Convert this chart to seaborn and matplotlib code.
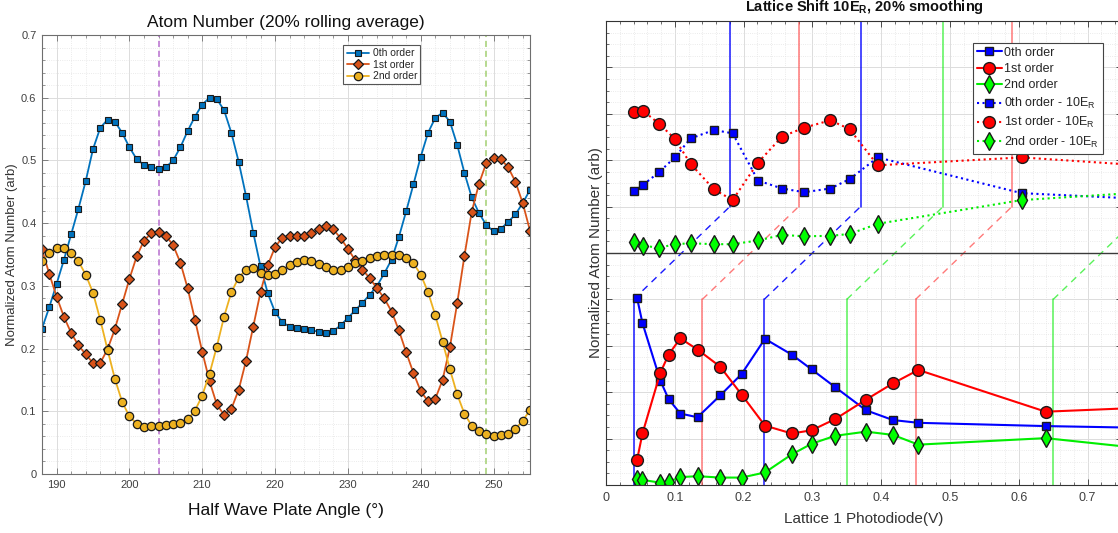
import matplotlib
matplotlib.use("Agg")
import matplotlib.pyplot as plt
from matplotlib.ticker import MultipleLocator
import seaborn as sns
import numpy as np

# ---------------- left panel: atom number vs half wave plate angle ----------------
angle = np.arange(188, 256)
order0 = [0.232, 0.266, 0.303, 0.341, 0.382, 0.423, 0.467, 0.518, 0.552, 0.565,
          0.562, 0.544, 0.521, 0.502, 0.493, 0.489, 0.487, 0.489, 0.500, 0.521,
          0.547, 0.570, 0.589, 0.600, 0.598, 0.580, 0.544, 0.498, 0.444, 0.385,
          0.331, 0.288, 0.258, 0.242, 0.235, 0.233, 0.231, 0.229, 0.227, 0.225,
          0.228, 0.237, 0.249, 0.261, 0.273, 0.286, 0.300, 0.320, 0.342, 0.378,
          0.419, 0.462, 0.506, 0.544, 0.568, 0.576, 0.562, 0.525, 0.480, 0.441,
          0.416, 0.397, 0.387, 0.391, 0.402, 0.414, 0.432, 0.453]
order1 = [0.358, 0.319, 0.283, 0.251, 0.225, 0.205, 0.191, 0.177, 0.177, 0.199,
          0.231, 0.271, 0.311, 0.347, 0.372, 0.384, 0.386, 0.380, 0.365, 0.337,
          0.296, 0.246, 0.195, 0.148, 0.111, 0.094, 0.104, 0.134, 0.180, 0.235,
          0.290, 0.333, 0.362, 0.377, 0.380, 0.380, 0.380, 0.384, 0.390, 0.395,
          0.390, 0.376, 0.359, 0.341, 0.326, 0.312, 0.296, 0.280, 0.259, 0.229,
          0.194, 0.161, 0.132, 0.116, 0.120, 0.150, 0.202, 0.272, 0.348, 0.418,
          0.463, 0.496, 0.504, 0.502, 0.489, 0.466, 0.432, 0.388]
order2 = [0.339, 0.352, 0.360, 0.360, 0.353, 0.339, 0.318, 0.289, 0.246, 0.198,
          0.152, 0.115, 0.092, 0.080, 0.075, 0.076, 0.077, 0.078, 0.079, 0.081,
          0.087, 0.101, 0.125, 0.160, 0.203, 0.251, 0.290, 0.313, 0.326, 0.328,
          0.321, 0.318, 0.319, 0.325, 0.333, 0.338, 0.341, 0.340, 0.335, 0.330,
          0.326, 0.326, 0.330, 0.337, 0.340, 0.344, 0.347, 0.349, 0.350, 0.349,
          0.345, 0.336, 0.318, 0.290, 0.253, 0.211, 0.167, 0.127, 0.096, 0.077,
          0.068, 0.063, 0.060, 0.062, 0.064, 0.072, 0.085, 0.102]
mark_angles = [204, 249]

# ---------------- right panel: lattice shift ----------------
# lower half: measured orders, upper half: 10E_R shifted data (offset by one panel)
volts = [0.045, 0.053, 0.079, 0.091, 0.108, 0.133, 0.166, 0.197, 0.231, 0.270,
         0.299, 0.333, 0.378, 0.417, 0.454, 0.639, 0.900]
lat0 = [0.404, 0.349, 0.225, 0.185, 0.154, 0.146, 0.193, 0.239, 0.315, 0.281,
        0.249, 0.211, 0.161, 0.140, 0.134, 0.127, 0.120]
lat1 = [0.053, 0.111, 0.242, 0.281, 0.316, 0.292, 0.255, 0.195, 0.128, 0.111,
        0.118, 0.142, 0.184, 0.219, 0.248, 0.158, 0.174]
lat2 = [0.014, 0.011, 0.005, 0.007, 0.017, 0.019, 0.016, 0.016, 0.027, 0.066,
        0.089, 0.106, 0.115, 0.108, 0.087, 0.101, 0.060]

volts_10er = [0.041, 0.054, 0.077, 0.100, 0.123, 0.157, 0.184, 0.221, 0.256,
              0.288, 0.326, 0.354, 0.395, 0.604, 0.900]
lat0_10er = [0.133, 0.147, 0.174, 0.206, 0.247, 0.265, 0.258, 0.156, 0.139,
             0.131, 0.139, 0.159, 0.206, 0.129, 0.108]
lat1_10er = [0.304, 0.306, 0.279, 0.246, 0.192, 0.137, 0.114, 0.195, 0.251,
             0.270, 0.286, 0.267, 0.189, 0.206, 0.177]
lat2_10er = [0.024, 0.016, 0.011, 0.019, 0.021, 0.019, 0.019, 0.027, 0.039,
             0.036, 0.037, 0.041, 0.063, 0.114, 0.142]
panel_offset = 0.5

# resonance markers (lower panel) and their position after the 10E_R shift
res_volts = [0.04, 0.14, 0.23, 0.35, 0.45, 0.65]
res_order = [0, 1, 0, 2, 1, 2]
res_shift = 0.14
res_level = 0.4

sns.set_theme(style="ticks")
plt.rcParams['font.family'] = ['Liberation Sans', 'DejaVu Sans']
plt.rcParams['mathtext.default'] = 'regular'

fig = plt.figure(figsize=(11.18, 5.33), dpi=100)
ax1 = fig.add_axes([42 / 1118, 59 / 533, 488 / 1118, 439 / 533])
ax2 = fig.add_axes([606 / 1118, 48 / 533, 516 / 1118, 464 / 533])

def matlab_axes(ax, spine_col, lab_col, fs, pad):
    ax.set_facecolor('white')
    for s in ax.spines.values():
        s.set_color(spine_col)
        s.set_linewidth(0.8)
    ax.grid(True, which='major', color='#dcdcdc', lw=0.7, ls='-')
    ax.grid(True, which='minor', color='#e4e4e4', lw=0.6, ls=':')
    ax.set_axisbelow(True)
    ax.tick_params(which='both', direction='in', top=True, right=True,
                   color=spine_col, labelcolor=lab_col, labelsize=fs, pad=pad)
    ax.tick_params(which='major', length=4, width=0.6)
    ax.tick_params(which='minor', length=2, width=0.5)

# ---- left ----
matlab_axes(ax1, '#6e6e6e', '#404040', 8, 4)
for a in mark_angles:
    col = '#b86fd0' if a < 230 else '#a3cf72'
    ax1.axvline(a, color=col, ls=(0, (4, 2.5)), lw=1.1, zorder=1.5)

sns.lineplot(x=angle, y=order0, ax=ax1, color='#0072bd', marker='s', markersize=4.3,
             markerfacecolor='#0072bd', markeredgecolor='#1a1a1a', markeredgewidth=0.8,
             lw=1.3, label='0th order', sort=False, estimator=None)
sns.lineplot(x=angle, y=order1, ax=ax1, color='#d95319', marker='D', markersize=5,
             markerfacecolor='#d95319', markeredgecolor='#1a1a1a', markeredgewidth=0.9,
             lw=1.3, label='1st order', sort=False, estimator=None)
sns.lineplot(x=angle, y=order2, ax=ax1, color='#edb120', marker='o', markersize=6,
             markerfacecolor='#edb120', markeredgecolor='#1a1a1a', markeredgewidth=0.9,
             lw=1.3, label='2nd order', sort=False, estimator=None)

ax1.set_xlim(188, 255)
ax1.set_ylim(0, 0.7)
ax1.xaxis.set_major_locator(MultipleLocator(10))
ax1.xaxis.set_minor_locator(MultipleLocator(2))
ax1.yaxis.set_major_locator(MultipleLocator(0.1))
ax1.yaxis.set_minor_locator(MultipleLocator(0.02))
ax1.set_yticks(np.arange(0, 0.71, 0.1))
ax1.set_yticklabels(['0', '0.1', '0.2', '0.3', '0.4', '0.5', '0.6', '0.7'])
ax1.set_title('Atom Number (20% rolling average)', fontsize=12.5, color='#111111', pad=6)
ax1.set_xlabel('Half Wave Plate Angle (°)', fontsize=12.5, color='#111111')
ax1.set_ylabel('Normalized Atom Number (arb)', fontsize=9.5, color='#333333')
ax1.xaxis.set_label_coords(0.5, -0.065)
ax1.yaxis.set_label_coords(-0.05, 0.5)
leg1 = ax1.legend(loc='upper right', bbox_to_anchor=(0.775, 0.977), borderaxespad=0,
                  fontsize=7.5, frameon=True, fancybox=False, framealpha=1,
                  edgecolor='#555555', handlelength=2.2, handletextpad=0.3,
                  labelspacing=0.15, borderpad=0.3)
leg1.get_frame().set_linewidth(0.8)

# ---- right ----
matlab_axes(ax2, '#333333', '#404040', 9, 5)
res_cols = ['#0000ff', '#ff4d4d', '#22ee22']
for v, o in zip(res_volts, res_order):
    c = res_cols[o]
    al = 0.9 if o == 0 else 0.75
    ax2.plot([v, v], [0, res_level], color=c, lw=1.1, alpha=al, zorder=1.5)
    ax2.plot([v, v + res_shift], [res_level, 1 - res_level], color=c, lw=1.0,
             ls=(0, (5, 4)), alpha=al, zorder=1.5)
    ax2.plot([v + res_shift, v + res_shift], [1 - res_level, 1], color=c, lw=1.1,
             alpha=al, zorder=1.5)
ax2.axhline(panel_offset, color='#3a3a3a', lw=1.0, zorder=1.6)

sty = dict(markeredgecolor='k', markeredgewidth=1.0, sort=False, estimator=None)
sns.lineplot(x=volts, y=lat0, ax=ax2, color='#0000ff', marker='s', markersize=6,
             markerfacecolor='#0000ff', lw=1.5, label='0th order', **sty)
sns.lineplot(x=volts, y=lat1, ax=ax2, color='#ff0000', marker='o', markersize=8.5,
             markerfacecolor='#ff0000', lw=1.5, label='1st order', **sty)
sns.lineplot(x=volts, y=lat2, ax=ax2, color='#00ee00', marker='d', markersize=9,
             markerfacecolor='#00ff00', lw=1.5, label='2nd order', **sty)
sns.lineplot(x=volts_10er, y=np.array(lat0_10er) + panel_offset, ax=ax2, color='#0000ff',
             marker='s', markersize=6, markerfacecolor='#0000ff', lw=1.5, ls=':',
             label='0th order - 10E$_R$', **sty)
sns.lineplot(x=volts_10er, y=np.array(lat1_10er) + panel_offset, ax=ax2, color='#ff0000',
             marker='o', markersize=8.5, markerfacecolor='#ff0000', lw=1.5, ls=':',
             label='1st order - 10E$_R$', **sty)
sns.lineplot(x=volts_10er, y=np.array(lat2_10er) + panel_offset, ax=ax2, color='#00ee00',
             marker='d', markersize=9, markerfacecolor='#00ff00', lw=1.5, ls=':',
             label='2nd order - 10E$_R$', **sty)

ax2.set_xlim(0, 0.75)
ax2.set_ylim(0, 1)
ax2.xaxis.set_major_locator(MultipleLocator(0.1))
ax2.xaxis.set_minor_locator(MultipleLocator(0.02))
ax2.yaxis.set_major_locator(MultipleLocator(0.1))
ax2.yaxis.set_minor_locator(MultipleLocator(0.025))
ax2.set_xticks(np.arange(0, 0.71, 0.1))
ax2.set_xticklabels(['0', '0.1', '0.2', '0.3', '0.4', '0.5', '0.6', '0.7'])
ax2.tick_params(labelleft=False)
ax2.set_title('Lattice Shift 10E$_R$, 20% smoothing', fontsize=10.5, fontweight='bold',
              color='#111111', pad=7)
ax2.set_xlabel('Lattice 1 Photodiode(V)', fontsize=11, color='#333333')
ax2.set_ylabel('Normalized Atom Number (arb)', fontsize=11, color='#333333')
ax2.xaxis.set_label_coords(0.5, -0.058)
ax2.yaxis.set_label_coords(-0.006, 0.5)
leg2 = ax2.legend(loc='upper left', bbox_to_anchor=((973 - 606) / 516, (485 - 43) / 464),
                  borderaxespad=0, fontsize=9, frameon=True, fancybox=False, framealpha=1,
                  edgecolor='#444444', handlelength=2.0, handletextpad=0.2,
                  labelspacing=0.35, borderpad=0.3)
leg2.get_frame().set_linewidth(0.8)

fig.savefig('out.png', dpi=100)
